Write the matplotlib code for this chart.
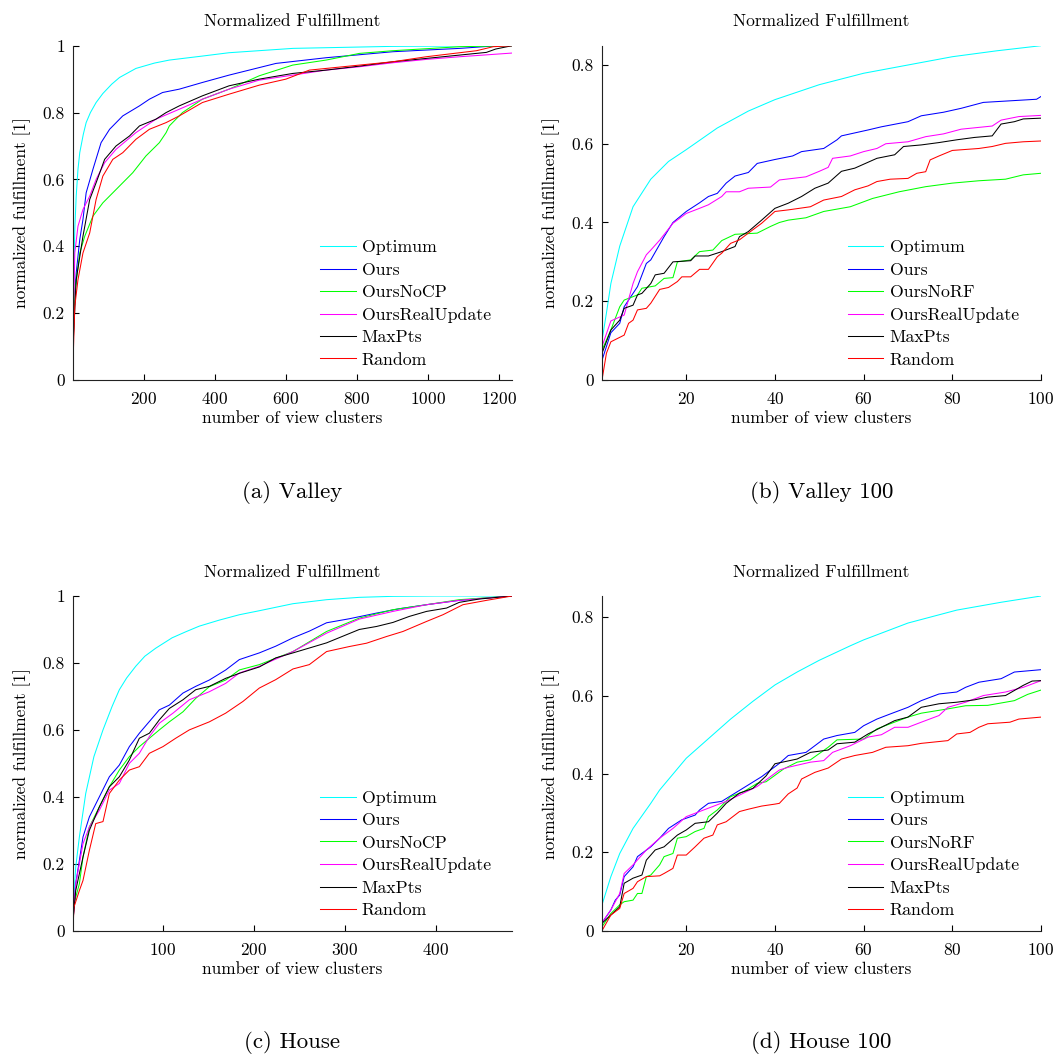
import matplotlib
matplotlib.use('Agg')
import matplotlib.pyplot as plt
from matplotlib.ticker import FuncFormatter

plt.rcParams['font.family'] = 'serif'
plt.rcParams['font.serif'] = ['cmr10']
plt.rcParams['mathtext.fontset'] = 'cm'
plt.rcParams['axes.formatter.use_mathtext'] = True

# ---- (a) Valley ----
va_opt_x = [1, 3, 6, 10, 15, 20, 30, 38, 50, 66, 85, 110, 132, 178, 230, 272, 365, 440, 620, 900, 1236]
va_opt_y = [0.08, 0.30, 0.45, 0.55, 0.63, 0.68, 0.735, 0.77, 0.80, 0.83, 0.857, 0.885, 0.905, 0.932, 0.948, 0.957, 0.969, 0.979, 0.992, 0.998, 1.0]
va_ours_x = [1, 6, 10, 20, 29, 38, 57, 80, 104, 141, 188, 216, 253, 300, 365, 440, 572, 713, 901, 1089, 1183, 1236]
va_ours_y = [0.1, 0.25, 0.32, 0.42, 0.48, 0.56, 0.63, 0.71, 0.75, 0.79, 0.82, 0.84, 0.86, 0.87, 0.89, 0.912, 0.947, 0.964, 0.982, 0.992, 0.999, 1.0]
va_nocp_x = [1, 6, 20, 34, 57, 85, 113, 141, 169, 206, 244, 263, 272, 309, 365, 440, 525, 619, 713, 807, 901, 1089, 1236]
va_nocp_y = [0.1, 0.26, 0.38, 0.43, 0.49, 0.53, 0.56, 0.59, 0.62, 0.67, 0.71, 0.74, 0.76, 0.80, 0.84, 0.87, 0.91, 0.942, 0.957, 0.977, 0.985, 0.997, 1.0]
va_real_x = [1, 6, 15, 29, 48, 66, 90, 122, 178, 234, 300, 365, 440, 525, 619, 713, 807, 901, 995, 1089, 1236]
va_real_y = [0.1, 0.38, 0.46, 0.51, 0.55, 0.60, 0.65, 0.69, 0.74, 0.78, 0.81, 0.84, 0.87, 0.897, 0.912, 0.927, 0.937, 0.949, 0.959, 0.967, 0.978]
va_maxpts_x = [1, 10, 29, 48, 66, 90, 122, 160, 188, 234, 263, 300, 365, 440, 525, 619, 713, 807, 901, 995, 1089, 1164, 1190, 1236]
va_maxpts_y = [0.1, 0.30, 0.43, 0.54, 0.59, 0.66, 0.70, 0.73, 0.76, 0.78, 0.80, 0.82, 0.85, 0.88, 0.90, 0.917, 0.927, 0.939, 0.952, 0.962, 0.972, 0.98, 0.99, 1.0]
va_random_x = [1, 6, 15, 29, 48, 66, 85, 113, 141, 178, 216, 263, 300, 365, 440, 525, 600, 666, 807, 901, 995, 1136, 1183, 1236]
va_random_y = [0.05, 0.22, 0.30, 0.38, 0.44, 0.54, 0.61, 0.66, 0.68, 0.72, 0.75, 0.77, 0.79, 0.83, 0.855, 0.882, 0.90, 0.927, 0.942, 0.952, 0.967, 0.985, 0.997, 1.0]

# ---- (b) Valley 100 ----
vb_opt_x = [1, 2, 3, 5, 8, 12, 16, 20, 27, 34, 40, 50, 60, 70, 80, 90, 100]
vb_opt_y = [0.10, 0.17, 0.245, 0.34, 0.44, 0.51, 0.555, 0.585, 0.64, 0.683, 0.712, 0.75, 0.779, 0.80, 0.821, 0.836, 0.849]
vb_ours_x = [1, 3, 5, 6, 8, 9, 11, 12, 15, 17, 20, 23, 25, 27, 29, 31, 34, 36, 40, 44, 46, 51, 54, 55, 61, 64, 70, 73, 78, 82, 87, 93, 99, 100]
vb_ours_y = [0.05, 0.12, 0.144, 0.186, 0.22, 0.237, 0.296, 0.305, 0.364, 0.40, 0.428, 0.45, 0.466, 0.474, 0.50, 0.518, 0.527, 0.55, 0.56, 0.569, 0.58, 0.588, 0.61, 0.62, 0.635, 0.643, 0.656, 0.671, 0.68, 0.69, 0.705, 0.709, 0.713, 0.72]
vb_norf_x = [1, 3, 5, 6, 9, 10, 13, 15, 17, 18, 21, 23, 26, 28, 31, 36, 39, 41, 43, 47, 51, 57, 62, 68, 74, 80, 86, 92, 96, 100]
vb_norf_y = [0.076, 0.127, 0.186, 0.203, 0.216, 0.233, 0.239, 0.258, 0.26, 0.30, 0.305, 0.326, 0.33, 0.354, 0.37, 0.373, 0.39, 0.40, 0.406, 0.412, 0.428, 0.44, 0.461, 0.478, 0.491, 0.50, 0.506, 0.51, 0.521, 0.525]
vb_real_x = [1, 3, 6, 8, 9, 11, 12, 14, 17, 20, 23, 25, 28, 29, 32, 34, 39, 41, 47, 50, 52, 53, 57, 60, 63, 65, 70, 74, 78, 82, 89, 91, 95, 100]
vb_real_y = [0.085, 0.15, 0.165, 0.245, 0.275, 0.318, 0.33, 0.355, 0.398, 0.423, 0.436, 0.445, 0.466, 0.478, 0.478, 0.487, 0.49, 0.508, 0.516, 0.53, 0.54, 0.563, 0.569, 0.58, 0.588, 0.60, 0.605, 0.618, 0.625, 0.637, 0.645, 0.66, 0.669, 0.672]
vb_maxpts_x = [1, 3, 5, 6, 8, 9, 10, 12, 13, 15, 17, 21, 22, 25, 28, 31, 32, 34, 37, 40, 43, 46, 49, 52, 55, 58, 63, 67, 69, 73, 77, 81, 85, 89, 91, 94, 96, 100]
vb_maxpts_y = [0.068, 0.127, 0.152, 0.182, 0.19, 0.216, 0.22, 0.245, 0.267, 0.271, 0.30, 0.303, 0.315, 0.315, 0.326, 0.339, 0.364, 0.377, 0.406, 0.436, 0.449, 0.466, 0.487, 0.50, 0.53, 0.538, 0.563, 0.572, 0.593, 0.597, 0.603, 0.61, 0.616, 0.62, 0.65, 0.656, 0.663, 0.665]
vb_random_x = [1, 2, 3, 6, 7, 8, 9, 11, 12, 14, 16, 18, 19, 21, 23, 25, 27, 28, 30, 32, 34, 37, 40, 43, 48, 51, 55, 58, 61, 63, 66, 70, 72, 74, 75, 77, 80, 86, 89, 92, 96, 100]
vb_random_y = [0.0, 0.068, 0.097, 0.114, 0.144, 0.152, 0.178, 0.182, 0.195, 0.23, 0.235, 0.25, 0.262, 0.262, 0.281, 0.281, 0.313, 0.322, 0.347, 0.356, 0.373, 0.398, 0.428, 0.432, 0.44, 0.457, 0.466, 0.483, 0.493, 0.504, 0.51, 0.512, 0.525, 0.529, 0.559, 0.569, 0.583, 0.588, 0.593, 0.601, 0.605, 0.607]

# ---- (c) House ----
hc_opt_x = [1, 4, 8, 15, 24, 34, 44, 52, 60, 70, 80, 92, 110, 125, 140, 162, 184, 206, 243, 280, 316, 353, 400, 484]
hc_opt_y = [0.06, 0.19, 0.28, 0.41, 0.52, 0.60, 0.67, 0.72, 0.755, 0.79, 0.82, 0.844, 0.875, 0.893, 0.91, 0.928, 0.944, 0.956, 0.977, 0.989, 0.996, 0.999, 1.0, 1.0]
hc_ours_x = [1, 4, 12, 19, 30, 41, 52, 63, 74, 85, 96, 107, 122, 136, 151, 169, 184, 206, 224, 243, 261, 280, 305, 335, 360, 390, 426, 456, 484]
hc_ours_y = [0.03, 0.14, 0.28, 0.34, 0.40, 0.46, 0.495, 0.55, 0.59, 0.625, 0.66, 0.674, 0.71, 0.73, 0.749, 0.779, 0.81, 0.83, 0.85, 0.875, 0.895, 0.92, 0.932, 0.949, 0.962, 0.974, 0.987, 0.994, 1.0]
hc_nocp_x = [1, 2, 8, 12, 19, 30, 41, 52, 63, 74, 85, 96, 107, 122, 136, 151, 169, 184, 206, 243, 280, 316, 353, 390, 426, 484]
hc_nocp_y = [0.03, 0.08, 0.14, 0.22, 0.31, 0.37, 0.43, 0.48, 0.52, 0.55, 0.575, 0.60, 0.624, 0.654, 0.694, 0.729, 0.749, 0.779, 0.795, 0.834, 0.894, 0.934, 0.959, 0.974, 0.989, 1.0]
hc_real_x = [1, 4, 12, 19, 30, 41, 52, 63, 74, 85, 96, 111, 129, 151, 169, 184, 206, 243, 280, 316, 353, 390, 426, 484]
hc_real_y = [0.03, 0.14, 0.26, 0.31, 0.36, 0.42, 0.44, 0.50, 0.53, 0.58, 0.62, 0.65, 0.69, 0.714, 0.739, 0.77, 0.79, 0.834, 0.889, 0.931, 0.954, 0.974, 0.987, 1.0]
hc_maxpts_x = [1, 4, 12, 19, 30, 41, 52, 63, 74, 85, 96, 107, 122, 136, 151, 169, 184, 206, 224, 243, 280, 298, 316, 335, 353, 371, 390, 412, 426, 448, 484]
hc_maxpts_y = [0.03, 0.12, 0.22, 0.30, 0.37, 0.43, 0.46, 0.51, 0.575, 0.59, 0.63, 0.664, 0.69, 0.72, 0.73, 0.754, 0.769, 0.788, 0.815, 0.83, 0.86, 0.88, 0.90, 0.909, 0.921, 0.939, 0.954, 0.964, 0.981, 0.991, 1.0]
hc_random_x = [1, 2, 8, 12, 19, 26, 34, 41, 52, 63, 74, 85, 100, 114, 129, 151, 169, 188, 206, 224, 243, 261, 280, 305, 324, 346, 364, 390, 408, 430, 456, 484]
hc_random_y = [0.0, 0.07, 0.12, 0.15, 0.24, 0.32, 0.326, 0.41, 0.45, 0.48, 0.49, 0.53, 0.55, 0.575, 0.60, 0.624, 0.65, 0.685, 0.725, 0.75, 0.782, 0.795, 0.834, 0.849, 0.859, 0.879, 0.894, 0.924, 0.944, 0.974, 0.987, 1.0]

# ---- (d) House 100 ----
hd_opt_x = [1, 3, 5, 8, 12, 14, 20, 25, 30, 35, 40, 45, 50, 57, 60, 70, 81, 91, 100]
hd_opt_y = [0.066, 0.138, 0.197, 0.261, 0.325, 0.359, 0.44, 0.49, 0.54, 0.585, 0.627, 0.66, 0.69, 0.727, 0.742, 0.785, 0.818, 0.838, 0.854]
hd_ours_x = [1, 3, 4, 5, 6, 8, 9, 12, 14, 16, 19, 22, 23, 25, 28, 31, 34, 37, 41, 43, 47, 51, 54, 58, 60, 63, 66, 70, 73, 77, 81, 83, 86, 91, 94, 100]
hd_ours_y = [0.02, 0.053, 0.078, 0.091, 0.138, 0.163, 0.189, 0.214, 0.236, 0.261, 0.283, 0.295, 0.308, 0.325, 0.33, 0.351, 0.372, 0.393, 0.427, 0.447, 0.455, 0.489, 0.498, 0.506, 0.523, 0.54, 0.553, 0.57, 0.587, 0.604, 0.609, 0.621, 0.634, 0.643, 0.66, 0.666]
hd_norf_x = [1, 3, 5, 6, 8, 9, 10, 11, 12, 14, 15, 17, 18, 20, 22, 24, 25, 27, 30, 33, 36, 38, 42, 45, 48, 52, 54, 60, 63, 66, 70, 73, 79, 83, 88, 94, 97, 100]
hd_norf_y = [0.01, 0.044, 0.066, 0.074, 0.078, 0.095, 0.095, 0.138, 0.142, 0.168, 0.189, 0.197, 0.236, 0.24, 0.253, 0.261, 0.291, 0.308, 0.342, 0.355, 0.376, 0.38, 0.413, 0.43, 0.436, 0.468, 0.487, 0.489, 0.515, 0.528, 0.545, 0.555, 0.566, 0.574, 0.575, 0.587, 0.603, 0.614]
hd_real_x = [1, 3, 5, 6, 8, 11, 14, 17, 20, 23, 26, 29, 32, 36, 41, 43, 48, 51, 53, 57, 61, 64, 67, 70, 73, 77, 79, 83, 87, 92, 96, 100]
hd_real_y = [0.02, 0.053, 0.095, 0.146, 0.168, 0.206, 0.236, 0.261, 0.291, 0.304, 0.317, 0.33, 0.346, 0.368, 0.41, 0.417, 0.43, 0.434, 0.455, 0.472, 0.494, 0.50, 0.519, 0.519, 0.532, 0.549, 0.57, 0.583, 0.60, 0.609, 0.621, 0.638]
hd_maxpts_x = [1, 3, 5, 6, 8, 10, 11, 13, 15, 18, 20, 22, 25, 27, 29, 32, 35, 38, 40, 45, 48, 52, 54, 58, 61, 64, 67, 70, 73, 77, 81, 85, 88, 92, 96, 98, 100]
hd_maxpts_y = [0.019, 0.04, 0.061, 0.121, 0.134, 0.142, 0.18, 0.206, 0.214, 0.244, 0.257, 0.274, 0.278, 0.30, 0.325, 0.351, 0.363, 0.395, 0.426, 0.438, 0.455, 0.461, 0.477, 0.481, 0.502, 0.519, 0.536, 0.545, 0.57, 0.579, 0.583, 0.589, 0.596, 0.60, 0.626, 0.637, 0.638]
hd_random_x = [1, 3, 5, 6, 8, 9, 11, 14, 15, 17, 18, 20, 22, 24, 26, 27, 29, 32, 34, 37, 40, 41, 43, 45, 46, 49, 52, 55, 58, 62, 65, 70, 73, 79, 81, 84, 86, 88, 93, 95, 100]
hd_random_y = [0.0, 0.04, 0.057, 0.095, 0.108, 0.125, 0.138, 0.14, 0.146, 0.159, 0.193, 0.193, 0.214, 0.236, 0.244, 0.27, 0.278, 0.304, 0.31, 0.318, 0.323, 0.325, 0.349, 0.364, 0.387, 0.404, 0.415, 0.438, 0.447, 0.455, 0.468, 0.472, 0.478, 0.485, 0.502, 0.506, 0.519, 0.528, 0.532, 0.54, 0.545]

colors = ['#00ffff', '#0000ff', '#00ff00', '#ff00ff', '#000000', '#ff0000']
labels_cp = ['Optimum', 'Ours', 'OursNoCP', 'OursRealUpdate', 'MaxPts', 'Random']
labels_rf = ['Optimum', 'Ours', 'OursNoRF', 'OursRealUpdate', 'MaxPts', 'Random']

panels = [
    dict(series=[(va_opt_x, va_opt_y), (va_ours_x, va_ours_y), (va_nocp_x, va_nocp_y),
                 (va_real_x, va_real_y), (va_maxpts_x, va_maxpts_y), (va_random_x, va_random_y)],
         labels=labels_cp, xlim=(1, 1236), ylim=(0, 1), xticks=[200, 400, 600, 800, 1000, 1200],
         yticks=[0, 0.2, 0.4, 0.6, 0.8, 1], caption='(a) Valley'),
    dict(series=[(vb_opt_x, vb_opt_y), (vb_ours_x, vb_ours_y), (vb_norf_x, vb_norf_y),
                 (vb_real_x, vb_real_y), (vb_maxpts_x, vb_maxpts_y), (vb_random_x, vb_random_y)],
         labels=labels_rf, xlim=(1, 100), ylim=(0, 0.849), xticks=[20, 40, 60, 80, 100],
         yticks=[0, 0.2, 0.4, 0.6, 0.8], caption='(b) Valley 100'),
    dict(series=[(hc_opt_x, hc_opt_y), (hc_ours_x, hc_ours_y), (hc_nocp_x, hc_nocp_y),
                 (hc_real_x, hc_real_y), (hc_maxpts_x, hc_maxpts_y), (hc_random_x, hc_random_y)],
         labels=labels_cp, xlim=(1, 484), ylim=(0, 1), xticks=[100, 200, 300, 400],
         yticks=[0, 0.2, 0.4, 0.6, 0.8, 1], caption='(c) House'),
    dict(series=[(hd_opt_x, hd_opt_y), (hd_ours_x, hd_ours_y), (hd_norf_x, hd_norf_y),
                 (hd_real_x, hd_real_y), (hd_maxpts_x, hd_maxpts_y), (hd_random_x, hd_random_y)],
         labels=labels_rf, xlim=(1, 100), ylim=(0, 0.854), xticks=[20, 40, 60, 80, 100],
         yticks=[0, 0.2, 0.4, 0.6, 0.8], caption='(d) House 100'),
]

W, H = 1058, 1054
fig = plt.figure(figsize=(W / 100, H / 100), dpi=100)

# axes boxes in pixels: left, top, right, bottom
boxes = [(73, 45.7, 512, 380), (602, 45.7, 1041, 380),
         (73, 596, 512, 930.7), (602, 596, 1041, 930.7)]
caption_y = [492, 492, 1042, 1042]
leg_x = [0.5626, 0.560, 0.5626, 0.560]

for i, p in enumerate(panels):
    l, t, r, b = boxes[i]
    ax = fig.add_axes([l / W, 1 - b / H, (r - l) / W, (b - t) / H])
    for (xs, ys), c, lab in zip(p['series'], colors, p['labels']):
        ax.plot(xs, ys, color=c, lw=0.75, label=lab)
    ax.set_xlim(*p['xlim'])
    ax.set_ylim(*p['ylim'])
    ax.set_xticks(p['xticks'])
    ax.set_yticks(p['yticks'])
    ax.yaxis.set_major_formatter(FuncFormatter(lambda v, pos: '%g' % v))
    ax.spines['top'].set_visible(False)
    ax.spines['right'].set_visible(False)
    for s in ['left', 'bottom']:
        ax.spines[s].set_linewidth(0.8)
        ax.spines[s].set_color('#222222')
    ax.tick_params(direction='in', length=4, width=0.8, labelsize=12.5)
    ax.tick_params(axis='x', pad=8)
    ax.tick_params(axis='y', pad=6)
    ax.set_title('Normalized Fulfillment', fontsize=12.5, pad=14)
    ax.set_xlabel('number of view clusters', fontsize=12.5, labelpad=2.5)
    ax.set_ylabel('normalized fulfillment [1]', fontsize=12.5, labelpad=8)
    ax.legend(loc='upper left', bbox_to_anchor=(leg_x[i], 0.419), frameon=False,
              fontsize=12.8, borderpad=0, borderaxespad=0, handlelength=2.0,
              handletextpad=0.35, labelspacing=0.39)
    fig.text((l + r) / 2 / W, 1 - caption_y[i] / H, p['caption'], ha='center', va='center',
             fontsize=16.5)

fig.savefig('out.png', dpi=100)
